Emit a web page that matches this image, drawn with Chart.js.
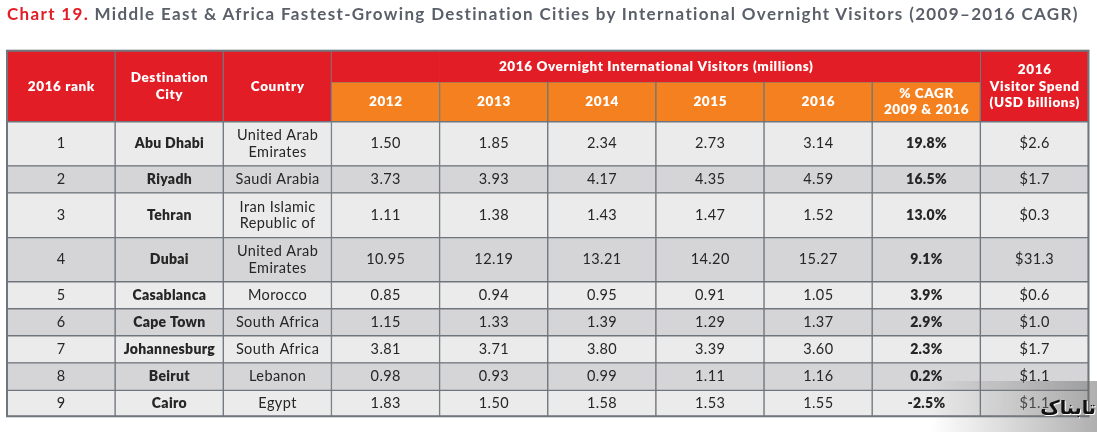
<!DOCTYPE html>
<html><head><meta charset="utf-8">
<script src="https://cdn.jsdelivr.net/npm/chart.js@4.4.0/dist/chart.umd.min.js"></script>
<style>
html,body{margin:0;padding:0;background:#fff;}
#wrap{position:relative;width:1097px;height:432px;overflow:hidden;}
#title{position:absolute;left:7px;top:3px;font:700 17px Lato,sans-serif;color:#5a6069;white-space:nowrap;}
#title span{color:#e31d25;}
canvas{position:absolute;left:0;top:0;}
#wm{position:absolute;left:930px;top:381px;width:167px;height:51px;
  background:linear-gradient(to right,rgba(140,140,140,0) 0%,rgba(130,130,130,0.35) 55%,rgba(110,110,110,0.55) 100%);}
#wmt{position:absolute;right:1px;top:395px;font:700 19px/24px "DejaVu Sans",sans-serif;color:#111;direction:rtl;
  text-shadow:1px 1px 0 #fff;}
</style></head><body>
<div id="wrap"><canvas id="c" width="1097" height="432"></canvas>
<div id="title"><span>Chart 19.</span> Middle East &amp; Africa Fastest-Growing Destination Cities by International Overnight Visitors (2009–2016 CAGR)</div>
<div id="wm"></div><div id="wmt">تابناک</div></div>
<script>
// ---- data ----
const colKeys = ['rank','city','country','y2012','y2013','y2014','y2015','y2016','cagr','spend'];
const headerLabels = [['2016 rank'],['Destination','City'],['Country'],['2012'],['2013'],['2014'],['2015'],['2016'],['% CAGR','2009 & 2016'],['2016','Visitor Spend','(USD billions)']];
const groupLabel = '2016 Overnight International Visitors (millions)';
const ranks = [1,2,3,4,5,6,7,8,9];
const cities = ['Abu Dhabi','Riyadh','Tehran','Dubai','Casablanca','Cape Town','Johannesburg','Beirut','Cairo'];
const countries = [['United Arab','Emirates'],['Saudi Arabia'],['Iran Islamic','Republic of'],['United Arab','Emirates'],['Morocco'],['South Africa'],['South Africa'],['Lebanon'],['Egypt']];
const v2012 = [1.50,3.73,1.11,10.95,0.85,1.15,3.81,0.98,1.83];
const v2013 = [1.85,3.93,1.38,12.19,0.94,1.33,3.71,0.93,1.50];
const v2014 = [2.34,4.17,1.43,13.21,0.95,1.39,3.80,0.99,1.58];
const v2015 = [2.73,4.35,1.47,14.20,0.91,1.29,3.39,1.11,1.53];
const v2016 = [3.14,4.59,1.52,15.27,1.05,1.37,3.60,1.16,1.55];
const cagr = [19.8,16.5,13.0,9.1,3.9,2.9,2.3,0.2,-2.5];
const spend = [2.6,1.7,0.3,31.3,0.6,1.0,1.7,1.1,1.1];

// fit title to reference width
(function(){
  const t=document.getElementById('title');
  const chars=t.textContent.length;
  const w=t.getBoundingClientRect().width;
  t.style.letterSpacing=((1073-w)/chars).toFixed(3)+'px';
})();

// ---- layout (row heights in units) ----
const rowSpan = [1.63,1,1.66,1.63,1,1,1,1.02,0.96];
const headBand = 1.15, headSub = 1.48;
const headBottom = headBand + headSub;
const edges = [headBottom];
rowSpan.forEach((h,i)=>edges.push(edges[i]+h));
const total = edges[edges.length-1];

const RED='#e31d25', ORANGE='#f4801f', LIGHT='#ebebeb', DARK='#d5d5d7', GRID='#6f767d', INK='#262626';

const cellText = ranks.map((rk,r)=>[
  [String(rk)],[cities[r]],countries[r],
  [v2012[r].toFixed(2)],[v2013[r].toFixed(2)],[v2014[r].toFixed(2)],[v2015[r].toFixed(2)],[v2016[r].toFixed(2)],
  [cagr[r].toFixed(1)+'%'],['$'+spend[r].toFixed(1)]
]);
const boldCols = [1,8];

const bodyData = [];
ranks.forEach((_,r)=>colKeys.forEach((k,c)=>bodyData.push({x:k,y:[edges[r],edges[r+1]],r,c})));
const headRedData = [0,1,2,9].map(c=>({x:colKeys[c],y:[0,headBottom],c}));
const groupCols = [3,4,5,6,7,8];
const headBandData = groupCols.map(c=>({x:colKeys[c],y:[0,headBand],c}));
const headOrangeData = groupCols.map(c=>({x:colKeys[c],y:[headBand,headBottom],c}));

const common = {borderColor:GRID,borderWidth:1,borderSkipped:false,barPercentage:1,categoryPercentage:1,grouped:false};

const textPlugin = {
  id:'tableText',
  afterDatasetsDraw(chart){
    const {ctx,chartArea:a,scales:{x,y}} = chart;
    ctx.save();
    ctx.strokeStyle=GRID; ctx.lineWidth=2;
    ctx.strokeRect(a.left,a.top,a.right-a.left,a.bottom-a.top);
    ctx.textAlign='center'; ctx.textBaseline='middle';
    const setLS=v=>{ if('letterSpacing' in ctx) ctx.letterSpacing=v; };
    const draw=(lines,cx,cy,lh,ls)=>{
      const n=lines.length;
      lines.forEach((t,i)=>ctx.fillText(t,cx+ls/2,cy+(i-(n-1)/2)*lh));
    };
    // header
    ctx.fillStyle='#fff';
    ctx.font='800 13.5px Lato, sans-serif'; setLS('0.6px');
    headerLabels.forEach((lines,c)=>{
      const inGroup = groupCols.includes(c);
      const cy = inGroup ? y.getPixelForValue((headBand+headBottom)/2) : y.getPixelForValue(headBottom/2);
      draw(lines,x.getPixelForValue(c),cy,16.5,0.6);
    });
    const gx=(x.getPixelForValue(groupCols[0])+x.getPixelForValue(groupCols[groupCols.length-1]))/2;
    draw([groupLabel],gx,y.getPixelForValue(headBand/2),16,0.6);
    // body
    ctx.fillStyle=INK;
    cellText.forEach((row,r)=>{
      const cy=y.getPixelForValue((edges[r]+edges[r+1])/2);
      row.forEach((lines,c)=>{
        const b=boldCols.includes(c);
        ctx.font=b?'800 14px Lato, sans-serif':'400 14.5px Lato, sans-serif';
        const ls=b?0.3:0.4; setLS(ls+'px');
        draw(lines,x.getPixelForValue(c),cy,16.5,ls);
      });
    });
    ctx.restore();
  }
};

new Chart(document.getElementById('c'),{
  type:'bar',
  data:{labels:colKeys,datasets:[
    Object.assign({label:'body',data:bodyData,backgroundColor:ctx=>ctx.raw&&ctx.raw.r%2?DARK:LIGHT},common),
    Object.assign({label:'headRed',data:headRedData,backgroundColor:RED},common),
    Object.assign({label:'headBand',data:headBandData,backgroundColor:RED},common,{borderWidth:0}),
    Object.assign({label:'headOrange',data:headOrangeData,backgroundColor:ORANGE},common)
  ]},
  options:{
    responsive:false,animation:false,events:[],
    layout:{padding:{left:7,right:8.5,top:50.7,bottom:15.7}},
    plugins:{legend:{display:false},tooltip:{enabled:false},title:{display:false}},
    scales:{
      x:{type:'category',display:false,offset:true,grid:{display:false}},
      y:{type:'linear',display:false,min:0,max:total,reverse:true,grid:{display:false}}
    }
  },
  plugins:[textPlugin]
});
</script>
</body></html>
